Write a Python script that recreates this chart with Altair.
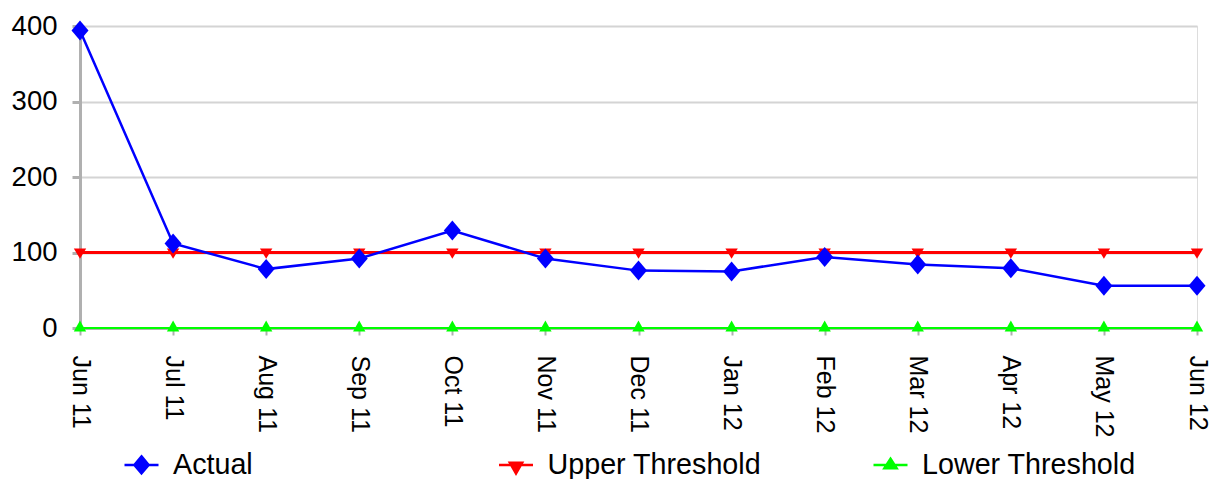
import altair as alt
import pandas as pd

months = ["Jun 11", "Jul 11", "Aug 11", "Sep 11", "Oct 11", "Nov 11", "Dec 11",
          "Jan 12", "Feb 12", "Mar 12", "Apr 12", "May 12", "Jun 12"]
actual = [394, 112, 78, 92, 129, 92, 76, 75, 94, 84, 79, 56, 56]
upper = [100] * 13
lower = [0] * 13
series_names = ["Actual", "Upper Threshold", "Lower Threshold"]
series_colors = ["#0000ff", "#ff0000", "#00ff00"]

rows = []
for name, vals in [("Upper Threshold", upper), ("Lower Threshold", lower), ("Actual", actual)]:
    for m, v in zip(months, vals):
        rows.append({"month": m, "value": v, "series": name})
df = pd.DataFrame(rows)

FONT = "Liberation Sans"

# marker shapes in the plot
plot_shapes = [
    "M0,-1L0.85,0L0,1L-0.85,0Z",
    "M-0.62,-0.4L0.62,-0.4L0,0.62Z",
    "M0,-0.75L0.62,0.35L-0.62,0.35Z",
]
# legend symbols: line + marker
legend_shapes = [
    "M-1,0L1,0M0,-0.5L0.42,0L0,0.5L-0.42,0Z",
    "M-1,0L1,0M-0.36,-0.12L0.36,-0.12L0,0.5Z",
    "M-1,0L1,0M0,-0.36L0.36,0.2L-0.36,0.2Z",
]

x_enc = alt.X("month:N", sort=months, scale=alt.Scale(type="point", padding=0),
              axis=alt.Axis(title=None, labelAngle=90, labelFontSize=25, labelFont=FONT,
                            labelColor="#000000", domainColor="#b0b0b0", domainWidth=3,
                            tickColor="#b0b0b0", tickWidth=2, tickSize=7, labelPadding=20,
                            grid=False))
y_enc = alt.Y("value:Q", scale=alt.Scale(domain=[0, 400], nice=False),
              axis=alt.Axis(title=None, values=[0, 100, 200, 300, 400], labelFontSize=27.5,
                            labelFont=FONT, labelColor="#000000", domainColor="#b0b0b0",
                            domainWidth=3, tickColor="#b0b0b0", tickWidth=3, tickSize=8,
                            labelPadding=15, gridColor="#d4d4d4", gridWidth=2))

base = alt.Chart(df)

layers = []
# thresholds first, then Actual on top
for name, color, width in [
    ("Upper Threshold", series_colors[1], 3),
    ("Lower Threshold", series_colors[2], 2),
    ("Actual", series_colors[0], 2.5),
]:
    sub = base.transform_filter(alt.datum.series == name)
    layers.append(sub.mark_line(strokeWidth=width, color=color).encode(x=x_enc, y=y_enc))
for name, color, shape in [
    ("Upper Threshold", series_colors[1], plot_shapes[1]),
    ("Lower Threshold", series_colors[2], plot_shapes[2]),
    ("Actual", series_colors[0], plot_shapes[0]),
]:
    sub = base.transform_filter(alt.datum.series == name)
    layers.append(sub.mark_point(filled=True, opacity=1, size=400, shape=shape, color=color,
                                 strokeWidth=0).encode(x=x_enc, y=y_enc))

leg = alt.Legend(
    title=None, orient="none", legendX=43, legendY=420,
    direction="horizontal", columns=3, gridAlign="all",
    columnPadding=106.5, labelFontSize=28.7, labelFont=FONT,
    labelColor="#000000", labelOffset=13, symbolSize=1156,
    symbolStrokeWidth=2.5, symbolOpacity=1, padding=0,
    labelLimit=400)

legend_layer = base.transform_filter("false").mark_point(filled=True, opacity=1, strokeWidth=2.5).encode(
    x=x_enc, y=y_enc,
    fill=alt.Fill("series:N", scale=alt.Scale(domain=series_names, range=series_colors), legend=leg),
    stroke=alt.Stroke("series:N", scale=alt.Scale(domain=series_names, range=series_colors), legend=leg),
    shape=alt.Shape("series:N", scale=alt.Scale(domain=series_names, range=legend_shapes), legend=leg),
)
layers.append(legend_layer)

chart = alt.layer(*layers).properties(
    width=1117, height=302,
    autosize=alt.AutoSizeParams(type="none"),
    padding={"left": 80, "top": 26, "right": 22, "bottom": 151},
).configure_view(
    stroke="#b8b8b8", strokeWidth=3
).configure(background="#ffffff")

chart.save("out.html", embed_options={"renderer": "svg", "actions": False})
